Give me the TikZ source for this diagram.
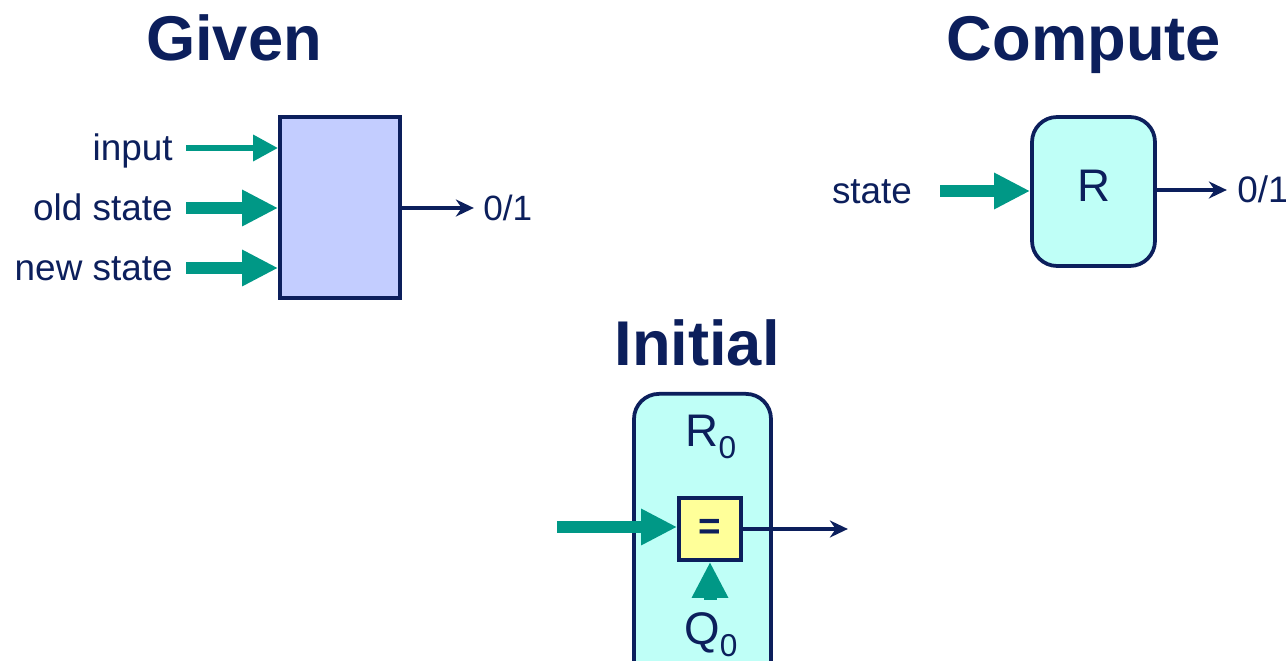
\documentclass[tikz,border=0pt]{standalone}
\usepackage{fontspec}
\setmainfont{Liberation Sans}
\usetikzlibrary{arrows.meta, positioning}
\definecolor{SlideNavy}{HTML}{0C1F5C}
\definecolor{ArrowTeal}{HTML}{009886}
\definecolor{BoxBlue}{HTML}{C3CDFF}
\definecolor{BoxCyan}{HTML}{BFFFF7}
\definecolor{BoxYellow}{HTML}{FFFF99}
\newcommand{\lowsub}[1]{\raisebox{-7pt}{\fontsize{18}{18}\selectfont #1}}

\begin{document}
\begin{tikzpicture}[
  x=0.02cm, y=-0.02cm,
  ttl/.style={font=\fontsize{36}{40}\selectfont\bfseries, text=SlideNavy, anchor=base},
  lbl/.style={font=\fontsize{21}{24}\selectfont, text=SlideNavy, inner sep=0pt,
              text height=14pt, text depth=0pt},
  big/.style={font=\fontsize{26}{30}\selectfont, text=SlideNavy},
  gbox/.style={rectangle, draw=SlideNavy, line width=0.075cm, fill=BoxBlue,
               minimum width=2.4cm, minimum height=3.62cm},
  rbox/.style={rectangle, rounded corners=0.5cm, draw=SlideNavy, line width=0.075cm,
               fill=BoxCyan},
  eqbox/.style={rectangle, draw=SlideNavy, line width=0.075cm, fill=BoxYellow,
                minimum width=1.24cm, minimum height=1.24cm,
                font=\fontsize{22}{24}\selectfont\bfseries, text=SlideNavy},
  fat/.style={-{Triangle[length=0.72cm, width=0.68cm]}, line width=0.24cm, ArrowTeal},
  slim/.style={-{Triangle[length=0.5cm, width=0.5cm]}, line width=0.13cm, ArrowTeal},
  outarr/.style={-{Stealth[length=0.36cm, width=0.34cm]}, line width=0.07cm, SlideNavy},
]
\clip (0,0) rectangle (1286,661);

% Given
\node[ttl] (given) at (234,61) {Given};
\node[gbox] (gb) at (340,207.5) {};
\node[lbl, anchor=east] (inp) at (173,148) {input};
\node[lbl, anchor=east] (old) at (173,208) {old state};
\node[lbl, anchor=east] (new) at (173,268) {new state};
\node[lbl, font=\fontsize{20}{24}\selectfont, anchor=west] (gout) at (483,208) {0/1};

\draw[slim] (inp.east) ++(13,0) -- (gb.west |- inp.east);
\draw[fat] (old.east) ++(13,0) -- (gb.west |- old.east);
\draw[fat] (new.east) ++(13,0) -- (gb.west |- new.east);
\draw[outarr] (gb.east |- gout.west) -- ++(72,0);

% Compute
\node[ttl] (compute) at (1084,61) {Compute};
\node[rbox, minimum width=2.46cm, minimum height=2.98cm] (rb) at (1093.5,191.5) {};
\node[big] (rname) at (1094,186) {R};
\node[lbl] (st) at (872,191) {state};
\node[lbl, anchor=west] (cout) at (1237,190) {0/1};

\draw[fat] (st.east) ++(28,0) -- (rb.west |- st.east);
\draw[outarr] (rb.east |- cout.west) -- ++(70,0);

% Initial
\node[ttl] (initial) at (697,366) {Initial};
\node[rbox, minimum width=2.74cm, minimum height=6.2cm, anchor=north] (r0) at (702.5,392) {};
\node[big] (r0name) at (711,437) {R\lowsub{0}};
\node[eqbox] (eq) at (710,529) {=};
\node[big] (q0name) at (711,635) {Q\lowsub{0}};
\coordinate (feed) at (557,527);
\coordinate (below) at (710,600);

\draw[fat] (feed) -- (eq.west |- feed);
\draw[fat, line width=0.26cm] (below) -- (eq.south);
\draw[outarr] (eq.east) -- ++(105,0);

\end{tikzpicture}
\end{document}
